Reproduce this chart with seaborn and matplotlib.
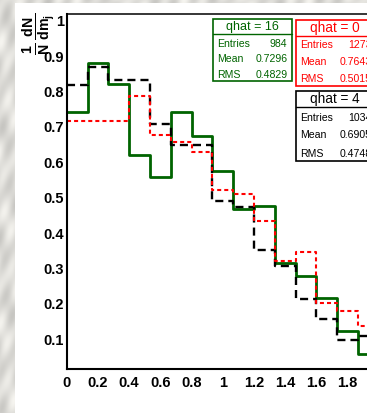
import numpy as np
import pandas as pd
import matplotlib
matplotlib.use("Agg")
import matplotlib.pyplot as plt
from matplotlib.patches import Rectangle
from matplotlib.lines import Line2D
from matplotlib.ticker import MultipleLocator
import seaborn as sns

# ---- data: normalised jet-mass distributions, 15 bins on [0, 2] ----
bin_edges = np.linspace(0.0, 2.0, 16)
qhat16 = [0.740, 0.878, 0.817, 0.618, 0.556, 0.740, 0.672, 0.573,
          0.466, 0.473, 0.313, 0.275, 0.214, 0.121, 0.054]
qhat4 = [0.814, 0.866, 0.829, 0.829, 0.705, 0.647, 0.647, 0.487,
         0.471, 0.349, 0.305, 0.211, 0.154, 0.095, 0.106]
qhat0 = [0.713, 0.713, 0.713, 0.784, 0.674, 0.655, 0.625, 0.519,
         0.507, 0.431, 0.318, 0.344, 0.200, 0.176, 0.135]

series_names = ["qhat = 16", "qhat = 4", "qhat = 0"]
stat_entries = ["984", "1034", "1273"]
stat_means = ["0.7296", "0.6905", "0.7643"]
stat_rms = ["0.4829", "0.4748", "0.5015"]

x_ticks = [0, 0.2, 0.4, 0.6, 0.8, 1, 1.2, 1.4, 1.6, 1.8]
x_tick_labels = ["0", "0.2", "0.4", "0.6", "0.8", "1", "1.2", "1.4", "1.6", "1.8"]
y_ticks = [0.1, 0.2, 0.3, 0.4, 0.5, 0.6, 0.7, 0.8, 0.9, 1.0]
y_tick_labels = ["0.1", "0.2", "0.3", "0.4", "0.5", "0.6", "0.7", "0.8", "0.9", "1"]

GREEN = "#006400"
RED = "#ff0000"
BLACK = "#000000"

sns.set_style("white")
plt.rcParams["font.family"] = ["Liberation Sans", "DejaVu Sans"]
plt.rcParams["mathtext.fontset"] = "custom"
plt.rcParams["mathtext.rm"] = "Liberation Sans"
plt.rcParams["mathtext.bf"] = "Liberation Sans:bold"
plt.rcParams["mathtext.it"] = "Liberation Sans:italic:bold"
plt.rcParams["mathtext.default"] = "bf"
plt.rcParams["lines.scale_dashes"] = False

W, H = 367, 414
fig = plt.figure(figsize=(W / 100, H / 100), dpi=100)


def fx(px):
    return px / W


def fy(py):
    return 1 - py / H


# marble-like border on the left and top, white canvas elsewhere
yy, xx = np.mgrid[0:H, 0:W].astype(float)
bg = 0.87 + 0.035 * np.sin(xx * 0.35 + yy * 0.18) + 0.03 * np.sin(yy * 0.045 - xx * 0.3) \
    + 0.03 * np.sin((xx - yy) * 0.11)
bg = np.clip(bg, 0, 1)
img = np.dstack([bg, bg * 0.995, bg * 0.975])
img[4:, 15:, :] = 1.0
fig.figimage(img, xo=0, yo=0, origin="upper", zorder=-10)

# axes frame: x from 0 to 2 (right part runs past the canvas)
ax = fig.add_axes([fx(66.7), fy(370), 312.2 / W, (370 - 15.3) / H])
ax.set_facecolor("white")


def step_frame(vals, name):
    return pd.DataFrame({"x": bin_edges, "y": list(vals) + [vals[-1]], "series": name})


df16 = step_frame(qhat16, series_names[0])
df4 = step_frame(qhat4, series_names[1])
df0 = step_frame(qhat0, series_names[2])

sns.lineplot(data=df16, x="x", y="y", ax=ax, color=GREEN, linewidth=2.0,
             drawstyle="steps-post", sort=False, estimator=None, legend=False)
sns.lineplot(data=df4, x="x", y="y", ax=ax, color=BLACK, linewidth=1.7,
             linestyle=(0, (5.8, 3.6)), drawstyle="steps-post", sort=False,
             estimator=None, legend=False)
sns.lineplot(data=df0, x="x", y="y", ax=ax, color=RED, linewidth=1.5,
             linestyle=(0, (2.9, 2.2)), drawstyle="steps-post", sort=False,
             estimator=None, legend=False)

ax.set_xlim(0, 2)
ax.set_ylim(0.013, 1.015)
ax.set_xlabel("")
ax.set_ylabel("")

for side in ["left", "bottom", "top", "right"]:
    ax.spines[side].set_visible(True)
    ax.spines[side].set_color("black")
ax.spines["left"].set_linewidth(1.5)
ax.spines["bottom"].set_linewidth(1.5)
ax.spines["top"].set_linewidth(1.1)
ax.spines["right"].set_linewidth(1.1)

ax.set_xticks(x_ticks)
ax.set_xticklabels(x_tick_labels)
ax.set_yticks(y_ticks)
ax.set_yticklabels(y_tick_labels)
ax.xaxis.set_minor_locator(MultipleLocator(0.05))
ax.yaxis.set_minor_locator(MultipleLocator(0.02))
ax.tick_params(axis="both", which="major", direction="in", length=6.5, width=0.9,
               labelsize=10.5, colors="black", top=False, right=False)
ax.tick_params(axis="both", which="minor", direction="in", length=3.4, width=0.9,
               top=False, right=False)
ax.tick_params(axis="x", which="major", pad=4)
ax.tick_params(axis="y", which="major", pad=2)
for lab in ax.get_xticklabels() + ax.get_yticklabels():
    lab.set_fontweight("bold")

# y-axis title
fig.text(fx(39), fy(13), r"$\frac{1}{N}\,\frac{dN}{dm_{j}}$", rotation=90,
         ha="center", va="top", fontsize=14.5, color="black")


# statistics boxes
def stat_box(x0, y0, x1, y1, ysep, color, title, title_size, entries, mean, rms,
             y_title, y_rows, x_val):
    fig.patches.append(Rectangle((fx(x0), fy(y1)), fx(x1) - fx(x0), fy(y0) - fy(y1),
                                 transform=fig.transFigure, facecolor="white",
                                 edgecolor=color, linewidth=1.2, zorder=5))
    fig.lines.append(Line2D([fx(x0), fx(x1)], [fy(ysep), fy(ysep)],
                            transform=fig.transFigure, color=color, linewidth=1.0,
                            zorder=6))
    fig.text(fx((x0 + x1) / 2), fy(y_title), title, ha="center", va="center",
             fontsize=title_size, color=color, zorder=7)
    for lbl, val, yr in zip(["Entries", "Mean", "RMS"], [entries, mean, rms], y_rows):
        fig.text(fx(x0 + 4), fy(yr), lbl, ha="left", va="center", fontsize=7.6,
                 color=color, zorder=7)
        fig.text(fx(x_val), fy(yr), val, ha="right", va="center", fontsize=7.6,
                 color=color, zorder=7)


stat_box(212.7, 20.0, 292.0, 82.0, 35.0, GREEN, series_names[0], 9.0,
         stat_entries[0], stat_means[0], stat_rms[0], 27.3, [44.0, 59.3, 75.0], 287.5)
stat_box(295.7, 20.7, 374.5, 86.7, 36.7, RED, series_names[2], 9.8,
         stat_entries[2], stat_means[2], stat_rms[2], 28.3, [45.3, 62.0, 79.0], 371.5)
stat_box(296.0, 91.7, 374.5, 162.3, 108.3, BLACK, series_names[1], 9.8,
         stat_entries[1], stat_means[1], stat_rms[1], 99.3, [118.0, 135.0, 154.0], 371.5)

fig.savefig("out.png", dpi=100)
